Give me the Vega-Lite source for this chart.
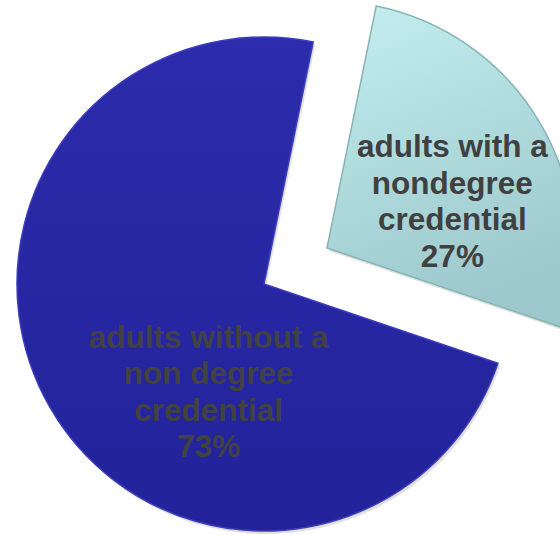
{
  "$schema": "https://vega.github.io/schema/vega-lite/v6.json",
  "width": 500,
  "height": 500,
  "autosize": {"type": "none"},
  "padding": {"left": 14, "top": 34, "right": 46, "bottom": 1},
  "background": "white",
  "config": {"view": {"stroke": null}},
  "data": {
    "values": [
      {"group": "with", "ord": 1, "value": 27, "label": ["adults with a", "nondegree", "credential", "27%"]},
      {"group": "without", "ord": 2, "value": 73, "label": ["adults without a", "non degree", "credential", "73%"]}
    ]
  },
  "encoding": {
    "theta": {"field": "value", "type": "quantitative", "stack": true, "scale": {"domain": [0, 100], "range": [0.2007, 6.4839]}},
    "order": {"field": "ord", "type": "quantitative"}
  },
  "layer": [
    {
      "mark": {"type": "arc", "radius": 247, "xOffset": 2, "yOffset": 3, "color": "#000000"},
      "encoding": {
        "opacity": {"condition": {"test": "datum.group === 'without'", "value": 0.12}, "value": 0}
      }
    },
    {
      "mark": {"type": "arc", "radius": 247, "xOffset": 65, "yOffset": -33, "color": "#000000"},
      "encoding": {
        "opacity": {"condition": {"test": "datum.group === 'with'", "value": 0.12}, "value": 0}
      }
    },
    {
      "mark": {"type": "arc", "radius": 247, "stroke": "#3c3cbc", "strokeWidth": 1.5,
        "color": {"gradient": "linear", "x1": 0, "y1": 0, "x2": 0, "y2": 1, "stops": [{"offset": 0, "color": "#2c2cac"}, {"offset": 1, "color": "#22229a"}]}},
      "encoding": {
        "opacity": {"condition": {"test": "datum.group === 'without'", "value": 1}, "value": 0}
      }
    },
    {
      "mark": {"type": "arc", "radius": 247, "xOffset": 63, "yOffset": -36, "stroke": "#86b3b6", "strokeWidth": 1.5,
        "color": {"gradient": "linear", "x1": 0, "y1": 0, "x2": 0.3, "y2": 1, "stops": [{"offset": 0, "color": "#c4eef0"}, {"offset": 1, "color": "#9dc9cc"}]}},
      "encoding": {
        "opacity": {"condition": {"test": "datum.group === 'with'", "value": 1}, "value": 0}
      }
    },
    {
      "mark": {"type": "text", "radius": 110, "dx": 40, "dy": 0, "font": "Liberation Sans", "fontWeight": "bold", "fontSize": 31.5, "lineHeight": 36.5, "align": "center", "baseline": "middle", "color": "#424242"},
      "encoding": {
        "text": {"field": "label"},
        "opacity": {"condition": {"test": "datum.group === 'without'", "value": 1}, "value": 0}
      }
    },
    {
      "mark": {"type": "text", "radius": 140, "xOffset": 63, "yOffset": -36, "dx": 4, "dy": -30, "font": "Liberation Sans", "fontWeight": "bold", "fontSize": 31.5, "lineHeight": 36.5, "align": "center", "baseline": "middle", "color": "#404040"},
      "encoding": {
        "text": {"field": "label"},
        "opacity": {"condition": {"test": "datum.group === 'with'", "value": 1}, "value": 0}
      }
    }
  ]
}
